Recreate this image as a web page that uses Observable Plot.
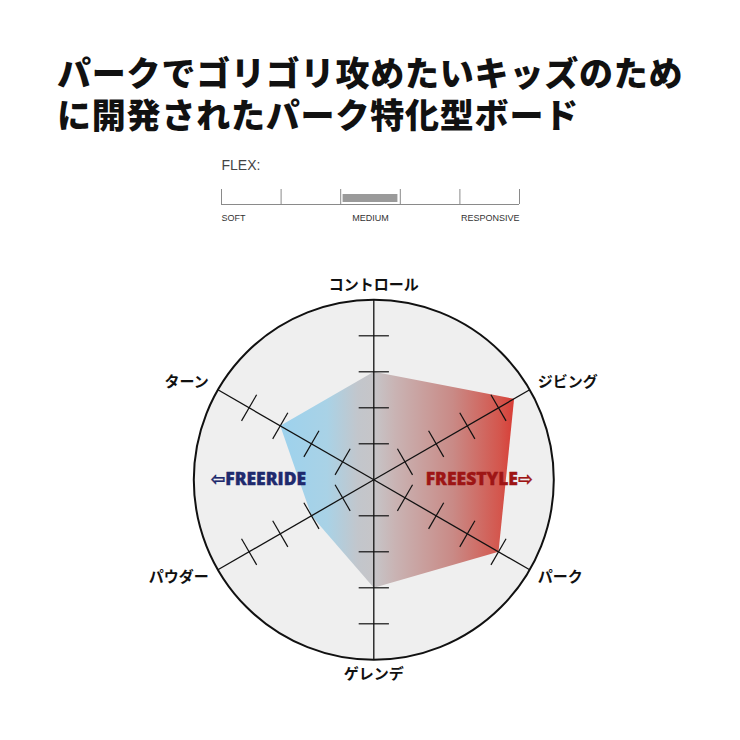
<!DOCTYPE html>
<html><head><meta charset="utf-8">
<script src="https://cdn.jsdelivr.net/npm/d3@7"></script>
<script src="https://cdn.jsdelivr.net/npm/@observablehq/plot@0.6"></script>
<style>
body{margin:0;background:#fff;}
#wrap{position:relative;width:740px;height:740px;overflow:hidden;}
.tl{position:absolute;left:57px;font-family:'Noto Sans CJK JP',sans-serif;font-weight:900;font-size:34px;line-height:38px;letter-spacing:0.8px;color:#111;white-space:nowrap;}
#flex{position:absolute;left:210px;top:150px;}
#radar{position:absolute;left:0;top:0;}
</style></head>
<body><div id="wrap"><div id="radar"></div><div id="t1" class="tl" style="top:53px"></div><div id="t2" class="tl" style="top:95px"></div><div id="flex"></div></div>
<script>
// ---- data ----
const titleLines = ["パークでゴリゴリ攻めたいキッズのため", "に開発されたパーク特化型ボード"];
const axisLabels = ["コントロール", "ジビング", "パーク", "ゲレンデ", "パウダー", "ターン"];
const axisAngles = [90, 30, -30, -90, 210, 150];
const values = [3, 4.5, 4, 3, 2, 3];
const levels = [1, 2, 3, 4];
const maxLevel = 5;
const sideLabels = ["⇦FREERIDE", "FREESTYLE⇨"];
const flexTicks = [0, 1, 2, 3, 4, 5];
const flexLabels = ["SOFT", "MEDIUM", "RESPONSIVE"];
const flexLabelPos = [0, 2.5, 5];
const flexValue = [2, 3];

// ---- title ----
document.getElementById("t1").textContent = titleLines[0];
document.getElementById("t2").textContent = titleLines[1];

// ---- layout ----
const W = 740, H = 740, cx = 373.3, cy = 479.3, unit = 36;
const rad = a => a * Math.PI / 180;

const axes = axisLabels.map((label, i) => ({label, a: rad(axisAngles[i]), v: values[i]}));
const poly = axes.map(d => ({x: d.v * Math.cos(d.a), y: d.v * Math.sin(d.a)}));
poly.push(poly[0]);
const ticks = [];
for (const d of axes) for (const l of levels) {
  const px = l * Math.cos(d.a), py = l * Math.sin(d.a);
  const nx = -Math.sin(d.a) * 0.42, ny = Math.cos(d.a) * 0.42;
  ticks.push({x1: px - nx, y1: py - ny, x2: px + nx, y2: py + ny});
}
const labelData = axes.map(d => {
  const vertical = Math.abs(Math.cos(d.a)) < 0.01;
  const r = vertical ? 5.41 : 5.42;
  return {label: d.label, x: r * Math.cos(d.a), y: r * Math.sin(d.a),
    anchor: vertical ? "middle" : (Math.cos(d.a) > 0 ? "start" : "end")};
});
const heavy = "'Open Sans', 'Noto Sans', 'DejaVu Sans', sans-serif";

const radar = Plot.plot({
  width: W, height: H, margin: 0,
  x: {domain: [-cx / unit, (W - cx) / unit], range: [0, W], axis: null},
  y: {domain: [-(H - cy) / unit, cy / unit], range: [H, 0], axis: null},
  r: {type: "identity"},
  style: {fontFamily: "'Noto Sans CJK JP', sans-serif", background: "transparent"},
  marks: [
    Plot.dot([0], {x: 0, y: 0, r: maxLevel * unit, fill: "#efefef", stroke: "#111", strokeWidth: 2}),
    Plot.line(poly, {x: "x", y: "y", fill: "url(#radarGrad)", stroke: "none"}),
    Plot.link(axes, {x1: 0, y1: 0, x2: d => maxLevel * Math.cos(d.a), y2: d => maxLevel * Math.sin(d.a), stroke: "#111", strokeWidth: 1.3}),
    Plot.link(ticks, {x1: "x1", y1: "y1", x2: "x2", y2: "y2", stroke: "#111", strokeWidth: 1.2}),
    Plot.text(labelData.filter(d => d.anchor === "middle"), {x: "x", y: "y", text: "label", textAnchor: "middle", fontSize: 15, fontWeight: 700, fill: "#111"}),
    Plot.text(labelData.filter(d => d.anchor === "start"), {x: "x", y: "y", text: "label", textAnchor: "start", dx: -5, fontSize: 15, fontWeight: 700, fill: "#111"}),
    Plot.text(labelData.filter(d => d.anchor === "end"), {x: "x", y: "y", text: "label", textAnchor: "end", dx: 4, fontSize: 15, fontWeight: 700, fill: "#111"}),
    Plot.text([sideLabels[0]], {x: -1.88, y: 0, text: d => d, textAnchor: "end", fontSize: 17.5, letterSpacing: 0.8, fontWeight: 800, fontFamily: heavy, fill: "#1f2a6e", stroke: "#1f2a6e", strokeWidth: 0.4}),
    Plot.text([sideLabels[1]], {x: 1.44, y: 0, text: d => d, textAnchor: "start", fontSize: 17.5, letterSpacing: 0.6, fontWeight: 800, fontFamily: heavy, fill: "#9e1515", stroke: "#9e1515", strokeWidth: 0.4})
  ]
});
// gradient definition
const xs = radar.scale("x");
const stops = [[-2.6, "#9dd2ed"], [-1.3, "#a9d2e6"], [-0.45, "#c2c6cc"], [0, "#c6c5c8"], [0.6, "#c9b3b3"], [2.2, "#c98a86"], [3.5, "#d4564d"], [3.95, "#d93a33"]];
const defs = d3.select(radar).insert("defs", ":first-child");
const x0 = xs.apply(-2.6), x1 = xs.apply(3.95);
const lg = defs.append("linearGradient").attr("id", "radarGrad").attr("gradientUnits", "userSpaceOnUse")
  .attr("x1", x0).attr("x2", x1).attr("y1", 0).attr("y2", 0);
for (const [v, c] of stops) lg.append("stop").attr("offset", (xs.apply(v) - x0) / (x1 - x0)).attr("stop-color", c);
document.getElementById("radar").append(radar);

// ---- flex bar ----
const flexFont = {fontSize: 9, fill: "#333", letterSpacing: -0.4, fontFamily: "'Liberation Sans Narrow', 'Liberation Sans', Arial, sans-serif"};
const flex = Plot.plot({
  width: 320, height: 80, margin: 0,
  x: {domain: [0, 5], range: [11, 309], axis: null},
  y: {domain: [0, 80], range: [0, 80], axis: null},
  style: {fontFamily: "'Liberation Sans', Arial, sans-serif", background: "transparent"},
  marks: [
    Plot.rect([flexValue], {x1: d => d[0] + 0.04, x2: d => d[1] - 0.04, y1: 44, y2: 52, fill: "#9a9a9a"}),
    Plot.ruleY([54], {x1: 0, x2: 5, stroke: "#8a8a8a", strokeWidth: 1}),
    Plot.ruleX(flexTicks, {y1: 39, y2: 54, stroke: "#8a8a8a", strokeWidth: 1}),
    Plot.text(["FLEX:"], {x: 0, y: 15, text: d => d, textAnchor: "start", fontSize: 14, fill: "#444"}),
    Plot.text([flexLabels[0]], {x: flexLabelPos[0], y: 68, text: d => d, textAnchor: "start", ...flexFont}),
    Plot.text([flexLabels[1]], {x: flexLabelPos[1], y: 68, text: d => d, textAnchor: "middle", ...flexFont}),
    Plot.text([flexLabels[2]], {x: flexLabelPos[2], y: 68, text: d => d, textAnchor: "end", ...flexFont})
  ]
});
document.getElementById("flex").append(flex);
</script></body></html>
